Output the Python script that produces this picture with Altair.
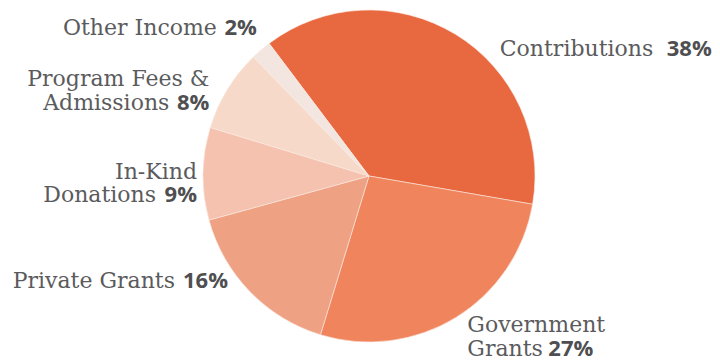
import math
import altair as alt
import pandas as pd

categories = ["Contributions", "Government Grants", "Private Grants",
              "In-Kind Donations", "Program Fees & Admissions", "Other Income"]
values = [38, 27, 16, 9, 8, 2]
line1 = ["Contributions", "Government", "Private Grants", "In-Kind", "Program Fees &", "Other Income"]
line2 = ["", "Grants", "", "Donations", "Admissions", ""]
pct_labels = ["38%", "27%", "16%", "9%", "8%", "2%"]
colors = ["#E8693F", "#EF845D", "#EFA184", "#F4C2AE", "#F7D9CA", "#F3E5DF"]

df = pd.DataFrame({
    "category": categories,
    "value": values,
    "order": list(range(len(categories))),
    "line1": line1,
    "line2": line2,
    "pct": pct_labels,
})

start = math.radians(-37)
theta_scale = alt.Scale(domain=[0, 100], range=[start, start + 2 * math.pi])

base = alt.Chart(df)

pie = base.mark_arc(outerRadius=166, stroke="#FBE9E1", strokeWidth=0.6).encode(
    theta=alt.Theta("value:Q", stack=True, scale=theta_scale),
    order=alt.Order("order:Q"),
    color=alt.Color("category:N", scale=alt.Scale(domain=categories, range=colors), legend=None),
)

text_base = base.transform_window(
    cum="sum(value)", sort=[alt.SortField("order")]
).transform_calculate(mid="datum.cum - datum.value / 2")

TEXT = "#5B5B5D"
NAME_FONT = "DejaVu Serif"
PCT_FONT = "Open Sans"
R = 180


def piece(cat, field, dx, dy, align, bold=False):
    return text_base.transform_filter(alt.datum.category == cat).mark_text(
        radius=R, dx=dx, dy=dy, align=align, baseline="alphabetic",
        font=PCT_FONT if bold else NAME_FONT,
        fontWeight="bold" if bold else "normal",
        fontSize=22,
        color="#4F4F51" if bold else TEXT,
    ).encode(
        theta=alt.Theta("mid:Q", scale=theta_scale, stack=False),
        text=alt.Text(f"{field}:N"),
    )


layers = [pie,
          # Contributions (left aligned, right side)
          piece(categories[0], "line1", 37, 34, "left"),
          piece(categories[0], "pct", 37 + 167, 34, "left", True),
          # Government Grants
          piece(categories[1], "line1", 4, 3, "left"),
          piece(categories[1], "line2", 4, 27, "left"),
          piece(categories[1], "pct", 4 + 81, 27, "left", True),
          # Private Grants
          piece(categories[2], "line1", -12 - 53, -13, "right"),
          piece(categories[2], "pct", -12, -13, "right", True),
          # In-Kind Donations
          piece(categories[3], "line1", 8, 6, "right"),
          piece(categories[3], "line2", 8 - 41, 29, "right"),
          piece(categories[3], "pct", 8, 29, "right", True),
          # Program Fees & Admissions
          piece(categories[4], "line1", -6, 4, "right"),
          piece(categories[4], "line2", -6 - 40, 28, "right"),
          piece(categories[4], "pct", -6, 28, "right", True),
          # Other Income
          piece(categories[5], "line1", 5 - 40, -4, "right"),
          piece(categories[5], "pct", 5, -4, "right", True),
          ]

chart = alt.layer(*layers).properties(
    width=700, height=352,
    padding={"left": 19, "top": 0, "right": 1, "bottom": 8},
    autosize=alt.AutoSizeParams(type="none"),
    background="#FFFFFF",
).configure_view(stroke=None)

chart.save("out.html", embed_options={"renderer": "svg", "actions": False})
